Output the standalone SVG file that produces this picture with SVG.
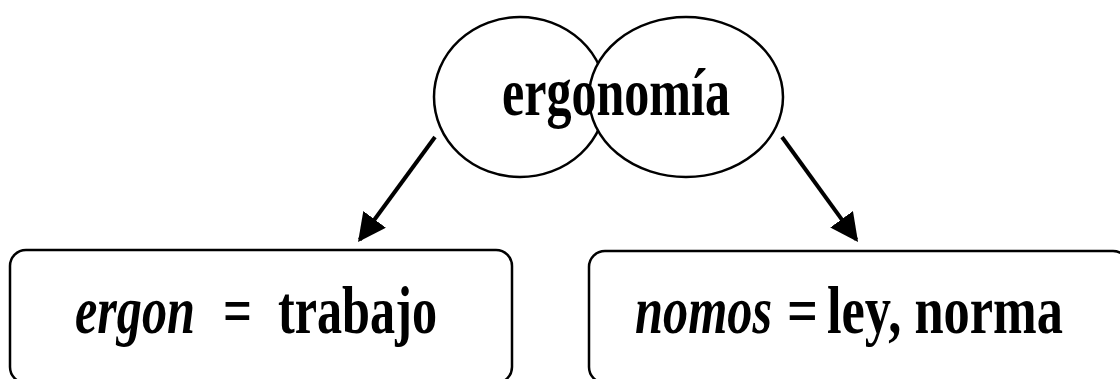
<svg xmlns="http://www.w3.org/2000/svg" width="1120" height="379" viewBox="0 0 1120 379">
<style>
.shape{fill:#fff;stroke:#000;stroke-width:2.5}
.box{fill:#fff;stroke:#000;stroke-width:2.5}
.t{font-family:"Liberation Serif","Times New Roman",serif;font-weight:bold;font-size:67px;fill:#000}
.i{font-style:italic}
.conn{stroke:#000;stroke-width:4;fill:none}
</style>
<defs>
<marker id="ah" viewBox="0 0 10 10" refX="9" refY="5" markerWidth="7" markerHeight="7" markerUnits="strokeWidth" orient="auto">
<path d="M0,0 L10,5 L0,10 Z" fill="#000"/>
</marker>
</defs>
<rect width="1120" height="379" fill="#fff"/>
<g id="node-ergonomia">
<ellipse class="shape" cx="520" cy="97" rx="86" ry="80"/>
<ellipse class="shape" cx="686" cy="97" rx="97" ry="80"/>
<text class="t" transform="translate(502,115) scale(0.75,1)" textLength="304" lengthAdjust="spacingAndGlyphs">ergonomía</text>
</g>
<g id="connectors">
<line class="conn" x1="435" y1="137" x2="359.7" y2="239.7" marker-end="url(#ah)"/>
<line class="conn" x1="782" y1="137" x2="856.4" y2="239.7" marker-end="url(#ah)"/>
</g>
<g id="node-ergon">
<rect class="box" x="10" y="250" width="502" height="133" rx="16"/>
<text class="t i" transform="translate(75,333) scale(0.75,1)" textLength="160" lengthAdjust="spacingAndGlyphs">ergon</text>
<text class="t" transform="translate(223,333) scale(0.75,1)" textLength="38.7" lengthAdjust="spacingAndGlyphs">=</text>
<text class="t" transform="translate(278,333) scale(0.75,1)" textLength="212" lengthAdjust="spacingAndGlyphs">trabajo</text>
</g>
<g id="node-nomos">
<rect class="box" x="589" y="251" width="540" height="132" rx="16"/>
<text class="t i" transform="translate(635,333) scale(0.75,1)" textLength="182.7" lengthAdjust="spacingAndGlyphs">nomos</text>
<text class="t" transform="translate(787,333) scale(0.75,1)" textLength="41.3" lengthAdjust="spacingAndGlyphs">=</text>
<text class="t" transform="translate(827,333) scale(0.75,1)" textLength="314.7" lengthAdjust="spacingAndGlyphs">ley, norma</text>
</g>
</svg>
